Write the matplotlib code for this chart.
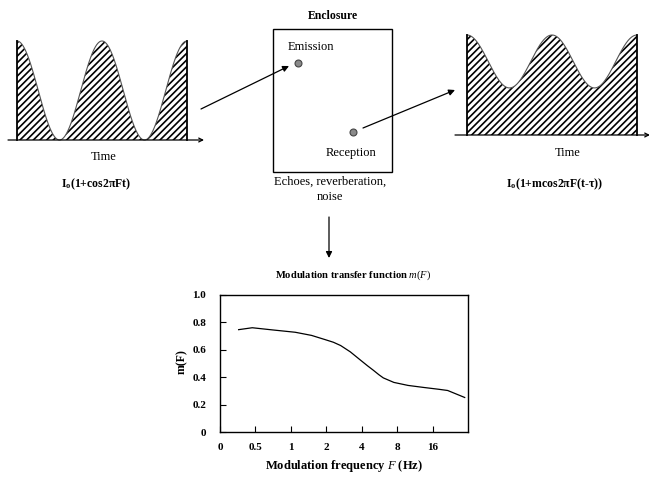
import numpy as np
import matplotlib.pyplot as plt

plt.rcParams['font.family'] = 'Liberation Serif'
plt.rcParams['mathtext.fontset'] = 'custom'
plt.rcParams['mathtext.rm'] = 'Liberation Serif'
plt.rcParams['mathtext.it'] = 'Liberation Serif:italic'
plt.rcParams['mathtext.bf'] = 'Liberation Serif:bold'
plt.rcParams['hatch.linewidth'] = 1.2

# modulation transfer function m(F)
freq = [0.36, 0.47, 0.7, 1.09, 1.5, 1.96, 2.3, 2.65, 3.2, 3.9, 4.5, 5.0,
        5.6, 6.1, 7.5, 9.9, 13.5, 18.0, 21.5, 30]
mtf = [0.747, 0.761, 0.745, 0.728, 0.705, 0.674, 0.655, 0.631, 0.585, 0.525,
       0.482, 0.452, 0.418, 0.395, 0.362, 0.34, 0.325, 0.312, 0.303, 0.252]
freq_ticks = [0.25, 0.5, 1, 2, 4, 8, 16]
freq_labels = ['0', '0.5', '1', '2', '4', '8', '16']
m_ticks = [0, 0.2, 0.4, 0.6, 0.8, 1.0]
m_labels = ['0', '0.2', '0.4', '0.6', '0.8', '1.0']

# modulation depth of the emitted and the received intensity
depth_in = 1.0
depth_out = 0.36
periods = 2

W, H = 649, 479
fig = plt.figure(figsize=(W / 100, H / 100), dpi=100)
ax = fig.add_axes([0, 0, 1, 1])
ax.set_xlim(0, W)
ax.set_ylim(H, 0)
ax.axis('off')


def wave(x0, x1, base, height, depth):
    t = np.linspace(0, periods, 400)
    y = (1 + depth * np.cos(2 * np.pi * t)) / (1 + depth)
    x = x0 + (x1 - x0) * t / periods
    top = base - height * y
    ax.fill_between(x, base, top, facecolor='white', edgecolor='black',
                    hatch='/////', linewidth=0)
    ax.plot(x, top, color='#555555', lw=0.8)
    ax.plot([x0, x0], [base, top[0]], color='black', lw=1.3)
    ax.plot([x1, x1], [base, top[-1]], color='black', lw=1.3)


def arrow(start, end, style='-|>', scale=9):
    ax.annotate('', xy=end, xytext=start, annotation_clip=False,
                arrowprops=dict(arrowstyle=style, color='black', lw=0.9,
                                mutation_scale=scale, shrinkA=0, shrinkB=0))


# emitted signal
wave(17, 187, 140, 99, depth_in)
arrow((8, 140), (204, 140), style='->', scale=7)
ax.text(104, 157, 'Time', ha='center', va='center', fontsize=9)
ax.text(96, 184, r'I$_{\mathbf{o}}$(1+cos2πFt)', ha='center', va='center',
        fontsize=8.5, fontweight='bold')

# received signal
wave(467, 637, 135, 100, depth_out)
arrow((455, 135), (650, 135), style='->', scale=7)
ax.text(568, 153, 'Time', ha='center', va='center', fontsize=9)
ax.text(555, 184, r'I$_{\mathbf{o}}$(1+mcos2πF(t-τ))', ha='center', va='center',
        fontsize=8.5, fontweight='bold')

# the enclosure
ax.add_patch(plt.Rectangle((273, 29), 119, 143, fill=False, lw=1.0, ec='black'))
ax.text(333, 16, 'Enclosure', ha='center', va='center', fontsize=8.5,
        fontweight='bold')
ax.text(311, 47, 'Emission', ha='center', va='center', fontsize=9)
ax.text(351, 153, 'Reception', ha='center', va='center', fontsize=9)
ax.plot([298, 353], [63, 132], 'o', ms=5, mfc='#8a8a8a', mec='#444444', mew=0.8)
ax.text(330, 182, 'Echoes, reverberation,', ha='center', va='center', fontsize=9)
ax.text(330, 197, 'noise', ha='center', va='center', fontsize=9)

arrow((201, 109), (289, 66))
arrow((363, 128), (455, 90))
arrow((329, 217), (329, 258))

ax.text(353, 275, r'Modulation transfer function $m(F)$', ha='center',
        va='center', fontsize=7.6, fontweight='bold')
ax.text(182, 362, 'm(F)', ha='center', va='center', rotation=90,
        fontsize=8.5, fontweight='bold')

# MTF curve
ax2 = fig.add_axes([220 / W, (H - 432) / H, 248 / W, 137 / H])
ax2.plot(freq, mtf, color='black', lw=0.9)
ax2.set_xscale('log', base=2)
ax2.set_xlim(0.25, 32)
ax2.set_ylim(0, 1)
ax2.set_xticks(freq_ticks, freq_labels)
ax2.minorticks_off()
ax2.set_yticks(m_ticks, m_labels)
ax2.tick_params(direction='in', length=4, labelsize=8, pad=8)
ax2.tick_params(axis='y', pad=10)
for lab in ax2.get_xticklabels() + ax2.get_yticklabels():
    lab.set_fontweight('bold')
for sp in ax2.spines.values():
    sp.set_linewidth(1.0)
ax2.set_xlabel(r'Modulation frequency $F$ (Hz)', fontsize=9,
               fontweight='bold', labelpad=4)

fig.savefig('out.png', dpi=100)
